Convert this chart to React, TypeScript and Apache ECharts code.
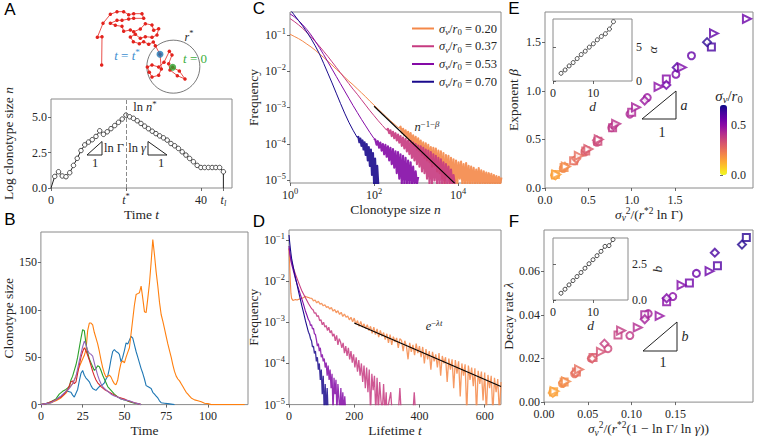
import { useEffect, useRef } from 'react';
import * as echarts from 'echarts';

const SERIF = '"Liberation Serif", "DejaVu Serif", serif';
const SANS = '"Liberation Sans", Arial, sans-serif';
const TXT = '#262626';
const FRAME = '#8a8a8a';

// ---------------- Panel A ----------------
// random-walk sketch, coordinates in sketch units (0..360 x 0..285)
const walkPts: number[][] = [
  [248, 187], [268, 198], [285, 222], [262, 212], [240, 195], [236, 176], [246, 150], [238, 139], [222, 172],
  [206, 186], [186, 180], [172, 186], [178, 202], [186, 216], [206, 211], [214, 192], [210, 148],
  [196, 122], [190, 111], [176, 118], [161, 110], [148, 116], [130, 110], [121, 96], [136, 88], [151, 100],
  [166, 95], [186, 97], [201, 90], [206, 71], [191, 76], [186, 60], [166, 56], [151, 72], [131, 80], [121, 75],
  [101, 79], [96, 64], [76, 61], [61, 55], [81, 46], [96, 46], [116, 42], [131, 40], [161, 40], [156, 26],
  [131, 26], [116, 29], [101, 20], [81, 20], [61, 28], [39, 55], [22, 97], [36, 95], [35, 180],
];
const walkCircleCenter = [250, 185];
const walkStart = [248, 187];
const walkPeak = [210, 148];

const T_STAR = 20;
const T_L = 46;
// log clonotype size at t = 0..46
const aLogSize = [0, 0.82, 1.15, 0.85, 0.8, 1.08, 1.6, 2.1, 2.65, 3.05, 3.25, 3.42, 3.65, 4.05, 3.8, 3.98, 4.2, 4.42,
  4.65, 4.88, 5.16, 5.04, 4.93, 4.76, 4.57, 4.38, 4.2, 4.02, 3.85, 3.69, 3.55, 3.39, 3.15, 2.99, 2.8, 2.56, 2.33,
  2.09, 1.86, 1.6, 1.45, 1.45, 1.45, 1.45, 1.45, 1.45, 1.15];

// ---------------- Panel B ----------------
const bBlue = [[0, 0], [3, 1], [6, 2], [9, 5], [12, 9], [14, 12], [16, 14], [18, 13], [19, 10], [20, 8], [21, 12], [22, 16], [23, 25], [24, 33], [25, 36], [26, 31], [27, 28], [28, 26], [29, 24], [30, 20], [31, 17], [32, 16], [33, 15], [34, 17], [35, 19], [36, 20], [37, 21], [38, 23], [39, 27], [40, 30], [41, 38], [42, 48], [43, 56], [44, 58], [45, 56], [46, 55], [47, 53], [48, 45], [49, 50], [50, 57], [51, 65], [52, 64], [53, 68], [54, 72], [55, 70], [56, 63], [57, 56], [58, 50], [59, 44], [60, 38], [61, 33], [62, 27], [63, 20], [64, 19], [65, 18], [66, 17], [67, 13], [68, 11], [69, 9], [70, 7], [71, 4], [72, 2], [74, 1.5], [76, 1], [78, 0.5], [80, 0]];
const bOrange = [[0, 0], [3, 1], [6, 2], [9, 4], [12, 7], [15, 12], [17, 18], [19, 22], [21, 30], [23, 40], [25, 48], [26, 52], [27, 58], [28, 78], [29, 86], [30, 86], [31, 84], [32, 76], [33, 70], [34, 64], [35, 56], [36, 47], [37, 39], [38, 33], [39, 29], [40, 30], [41, 31], [42, 29], [43, 25], [44, 22], [45, 21], [46, 26], [47, 36], [48, 44], [49, 46], [50, 44], [51, 50], [52, 55], [53, 60], [54, 75], [55, 90], [56, 105], [57, 116], [58, 117], [59, 118], [60, 125], [61, 112], [62, 98], [63, 97], [64, 112], [65, 128], [66, 150], [67, 174], [68, 158], [69, 140], [70, 125], [71, 108], [72, 95], [73, 88], [74, 80], [75, 72], [76, 64], [77, 57], [78, 50], [79, 42], [80, 35], [81, 30], [82, 27], [83, 25], [84, 22], [85, 19], [86, 16], [87, 13], [88, 11], [89, 9], [90, 7], [92, 5], [94, 4], [96, 3], [98, 1.5], [100, 1], [102, 0], [122, 0]];
const bGreen = [[0, 0], [3, 1], [6, 3], [9, 6], [11, 11], [13, 14], [15, 16], [17, 19], [18, 26], [19, 30], [20, 36], [21, 42], [22, 50], [23, 60], [24, 70], [25, 79], [26, 78], [27, 64], [28, 55], [29, 48], [30, 44], [31, 40], [32, 36], [33, 38], [34, 41], [35, 40], [36, 36], [37, 31], [38, 27], [39, 23], [40, 19], [42, 15], [44, 11], [46, 8], [48, 6], [50, 5], [53, 3], [56, 1.5], [58, 1], [60, 0]];
const bRed = [[0, 0], [3, 1], [6, 3], [9, 5], [12, 8], [14, 11], [16, 16], [17, 20], [18, 24], [19, 25], [20, 22], [21, 24], [22, 33], [23, 42], [24, 50], [25, 56], [26, 60], [27, 57], [28, 52], [29, 47], [30, 41], [31, 35], [32, 30], [33, 26], [34, 23], [35, 21], [36, 19], [38, 16], [40, 14], [42, 12], [44, 10], [46, 8], [48, 7], [50, 6], [52, 4], [54, 3], [56, 2], [58, 1], [60, 0]];
const bPurple = [[0, 0], [3, 1], [6, 2], [9, 5], [12, 9], [15, 14], [17, 17], [19, 22], [21, 30], [22, 38], [23, 46], [24, 54], [25, 61], [26, 67], [27, 63], [28, 57], [29, 54], [30, 53], [31, 51], [32, 44], [33, 37], [34, 31], [35, 26], [36, 22], [37, 19], [38, 17], [40, 14], [42, 11], [44, 9], [46, 8], [48, 6], [50, 5], [53, 4], [56, 2], [58, 1], [60, 0]];

// ---------------- Panel C (log10 n, log10 frequency) ----------------
const cStep = 0.1; // head sampled every 0.1 decade from n = 1
const cOrangeHead = [-0.98, -1.04, -1.1, -1.17, -1.25, -1.33, -1.42, -1.52, -1.62, -1.72, -1.83, -1.94, -2.05, -2.16, -2.27, -2.37, -2.48, -2.59, -2.7, -2.82, -2.93, -3.04, -3.15, -3.26, -3.37, -3.47, -3.57];
const cOrangeTail = [-3.52, -3.68, -3.58, -3.75, -3.62, -3.82, -3.66, -3.9, -3.7, -3.98, -3.76, -4.05, -3.8, -4.15, -3.84, -4.2, -3.9, -4.3, -3.95, -4.38, -3.98, -4.45, -4.02, -4.5, -4.08, -4.62, -4.1, -4.6, -4.12, -4.75, -4.18, -4.8, -4.2, -4.95, -4.25, -5.1, -4.3, -4.9, -4.32, -5.1, -4.38, -5.0, -4.42, -5.1, -4.45, -5.1, -4.5, -4.95, -4.48, -5.1, -4.55, -5.1, -4.52, -5.1, -4.6, -5.1, -4.62, -5.1, -4.65, -5.1, -4.7, -5.1, -4.66, -5.1, -4.72, -5.1, -4.75, -5.1, -4.78, -5.1, -4.8, -5.1, -4.82, -5.1, -4.85, -5.1, -4.88, -5.1, -4.9, -5.1, -4.92];
const cMagentaHead = [-0.55, -0.63, -0.72, -0.82, -0.93, -1.05, -1.18, -1.31, -1.45, -1.59, -1.74, -1.89, -2.04, -2.19, -2.34, -2.49, -2.63, -2.78, -2.93, -3.08, -3.22, -3.36, -3.49, -3.62];
const cMagentaTail = [-3.58, -3.7, -3.62, -3.78, -3.66, -3.84, -3.7, -3.9, -3.74, -3.96, -3.78, -4.05, -3.82, -4.12, -3.86, -4.2, -3.9, -4.28, -3.92, -4.38, -3.96, -4.45, -4.0, -4.55, -4.04, -4.62, -4.06, -4.75, -4.1, -4.8, -4.15, -4.95, -4.18, -5.1, -4.22, -5.1, -4.28, -5.0, -4.32, -5.1, -4.38, -5.1, -4.42, -5.1, -4.5, -5.1, -4.55, -5.1, -4.62, -5.1, -4.7, -5.1, -4.85, -5.1];
const cPurpleHead = [-0.42, -0.5, -0.6, -0.72, -0.85, -1.0, -1.17, -1.35, -1.54, -1.74, -1.94, -2.14, -2.34, -2.54, -2.74, -2.94, -3.13, -3.32, -3.5, -3.68, -3.85];
const cPurpleTail = [-3.88, -4.02, -3.92, -4.1, -3.96, -4.18, -4.0, -4.28, -4.02, -4.35, -4.06, -4.45, -4.1, -4.55, -4.14, -4.65, -4.2, -4.8, -4.22, -4.95, -4.28, -5.1, -4.32, -5.1, -4.38, -5.1, -4.45, -5.1, -4.5, -5.1, -4.62, -5.1, -4.75, -5.1, -4.9];
const cBlueHead = [-0.3, -0.45, -0.6, -0.75, -0.92, -1.1, -1.3, -1.52, -1.78, -2.05, -2.32, -2.6, -2.88, -3.15, -3.4, -3.62, -3.82];
const cBlueTail = [-3.8, -3.95, -3.85, -4.05, -3.9, -4.15, -3.95, -4.3, -4.0, -4.45, -4.08, -4.6, -4.15, -4.85, -4.25, -5.1, -4.4, -5.1, -4.6, -5.1];
const cFit = [[2.0, -2.96], [3.92, -5.08]];

// ---------------- Panel D (lifetime t, log10 frequency) ----------------
const dOrangeHead = [[0, -1.22], [2, -1.6], [4, -2.0], [6, -2.3], [8, -2.42], [12, -2.47], [16, -2.46], [20, -2.45], [25, -2.46], [30, -2.44], [35, -2.43], [40, -2.42], [45, -2.4], [50, -2.37], [55, -2.39], [60, -2.4], [65, -2.42]];
const dOrangeTail = [-2.42, -2.48, -2.46, -2.53, -2.49, -2.56, -2.54, -2.6, -2.58, -2.64, -2.62,
  -2.68, -2.64, -2.73, -2.69, -2.77, -2.72, -2.81, -2.76, -2.86, -2.8, -2.88,
  -2.85, -2.94, -2.88, -2.99, -2.9, -3.05, -2.96, -3.1, -2.98, -3.12, -3.04,
  -3.16, -3.06, -3.2, -3.1, -3.27, -3.12, -3.3, -3.16, -3.36, -3.2, -3.34,
  -3.25, -3.42, -3.28, -3.5, -3.3, -3.55, -3.35, -3.48, -3.38, -3.62, -3.4,
  -3.44, -3.7, -3.45, -3.58, -3.9, -3.5, -3.72, -3.55, -3.8, -3.52, -3.75,
  -3.58, -3.85, -3.6, -4.0, -3.65, -3.9, -3.7, -4.15, -3.72, -3.95, -3.78,
  -4.1, -3.75, -4.3, -3.82, -4.0, -3.85, -4.45, -3.88, -4.15, -3.9, -4.6,
  -3.92, -4.25, -3.95, -4.8, -4.0, -4.3, -4.02, -5.2, -4.05, -4.4, -4.1,
  -4.55, -4.12, -5.2, -4.18, -4.5, -4.2, -4.9, -4.22, -5.2, -4.28, -4.6,
  -4.3, -5.2, -4.35, -4.7, -4.38, -5.2, -4.45]; // t = 70, 75, ..., 650
const dMagentaHead = [[0, -1.2], [3, -1.35], [6, -1.47], [10, -1.58], [15, -1.72], [20, -1.84], [30, -2.05], [40, -2.25], [50, -2.4], [60, -2.55], [70, -2.68]];
const dMagentaTail = [-2.7, -2.78, -2.77, -2.86, -2.84, -2.96, -2.94,
  -3.06, -3.0, -3.12, -3.08, -3.2, -3.12, -3.26,
  -3.2, -3.34, -3.28, -3.45, -3.32, -3.55, -3.4,
  -3.48, -3.62, -3.5, -3.75, -3.58, -3.82, -3.62,
  -3.9, -3.7, -3.98, -3.78, -4.1, -3.85, -4.2,
  -3.92, -4.3, -4.0, -4.45, -4.05, -4.6, -4.1,
  -4.7, -4.15, -5.2, -4.25, -4.65, -4.3, -5.2,
  -4.35, -5.2, -4.45, -4.9, -5.2, -4.5, -5.2, -4.7]; // t = 74, 78, ..., 298
const dMagentaSparse = [[300, -5.2], [312, -4.7], [316, -5.2], [335, -5.2], [340, -4.6], [344, -5.2], [380, -5.2], [384, -4.7], [388, -5.2]];
const dPurpleHead = [[0, -1.15], [3, -1.35], [6, -1.52], [10, -1.65], [15, -1.8], [20, -1.95], [25, -2.08], [30, -2.2], [35, -2.33], [40, -2.45], [45, -2.58], [50, -2.72], [55, -2.83], [60, -2.95]];
const dPurpleTail = [-2.98, -3.08, -3.06, -3.16, -3.15, -3.28, -3.3,
  -3.42, -3.58, -3.52, -3.7, -3.62, -3.85, -3.78,
  -3.95, -3.88, -4.1, -3.98, -4.3, -4.05, -4.4,
  -4.15, -4.6, -4.25, -5.2, -4.35, -4.75, -4.4,
  -5.2, -4.5, -4.85, -5.2, -4.6, -5.2, -4.7,
  -5.2, -4.8, -5.2]; // t = 63, 66, ..., 174
const dBlueHead = [[0, -0.88], [2, -1.05], [4, -1.2], [6, -1.33], [8, -1.45], [12, -1.62], [16, -1.78], [20, -1.92], [25, -2.1], [30, -2.28], [35, -2.45], [40, -2.62], [45, -2.78], [50, -2.95], [55, -3.1], [60, -3.25]];
const dBlueTail = [-3.3, -3.4, -3.45, -3.6, -3.58, -3.76, -3.7, -3.95, -3.85, -4.15, -4.0, -4.4, -4.15, -4.75, -4.3, -5.2, -4.5, -5.2, -4.6, -5.2]; // t = 63, 66, ..., 120
const dFit = [[200, -3.02], [650, -4.56]];

// ---------------- Panel E / F  ([x, y, sigma_v/r0]) ----------------
const eCircles = [[0.11, 0.13, 0.15], [0.21, 0.2, 0.2], [0.34, 0.28, 0.26], [0.46, 0.37, 0.3], [0.6, 0.47, 0.35], [0.77, 0.62, 0.39], [0.98, 0.76, 0.43], [1.18, 0.93, 0.47], [1.51, 1.17, 0.53], [1.69, 1.36, 0.57]];
const eSquares = [[0.12, 0.14, 0.15], [0.22, 0.21, 0.2], [0.33, 0.28, 0.26], [0.47, 0.38, 0.3], [0.61, 0.48, 0.35], [0.78, 0.62, 0.39], [1.0, 0.78, 0.43], [1.4, 1.12, 0.51], [1.92, 1.45, 0.62]];
const eDiamonds = [[0.12, 0.13, 0.15], [0.23, 0.22, 0.2], [0.36, 0.3, 0.26], [0.47, 0.39, 0.3], [0.6, 0.49, 0.35], [0.79, 0.64, 0.4], [1.15, 0.9, 0.47], [1.4, 1.06, 0.55], [1.52, 1.24, 0.6], [1.87, 1.5, 0.66]];
const eTriangles = [[0.13, 0.14, 0.15], [0.24, 0.22, 0.2], [0.39, 0.33, 0.26], [0.5, 0.4, 0.31], [0.62, 0.5, 0.35], [0.82, 0.66, 0.4], [1.05, 0.83, 0.45], [1.31, 1.04, 0.5], [1.58, 1.24, 0.53], [1.95, 1.59, 0.58], [2.33, 1.74, 0.56]];
const fCircles = [[0.01, 0.0045, 0.15], [0.021, 0.0085, 0.2], [0.035, 0.013, 0.26], [0.054, 0.02, 0.3], [0.073, 0.0245, 0.35], [0.098, 0.0305, 0.39], [0.119, 0.0406, 0.45], [0.147, 0.0484, 0.5], [0.174, 0.059, 0.56]];
const fSquares = [[0.011, 0.0048, 0.15], [0.023, 0.0092, 0.2], [0.037, 0.0138, 0.26], [0.056, 0.0205, 0.31], [0.0845, 0.0308, 0.37], [0.115, 0.04, 0.45], [0.14, 0.046, 0.5], [0.166, 0.0546, 0.55], [0.198, 0.0625, 0.6], [0.231, 0.0755, 0.66]];
const fDiamonds = [[0.01, 0.0042, 0.15], [0.022, 0.009, 0.2], [0.036, 0.0135, 0.26], [0.055, 0.02, 0.3], [0.069, 0.0268, 0.37], [0.115, 0.038, 0.45], [0.14, 0.0476, 0.52], [0.195, 0.0685, 0.62], [0.226, 0.0722, 0.67]];
const fTriangles = [[0.012, 0.005, 0.15], [0.025, 0.0095, 0.2], [0.04, 0.015, 0.26], [0.065, 0.023, 0.33], [0.088, 0.0328, 0.38], [0.107, 0.0342, 0.42], [0.132, 0.0395, 0.48], [0.157, 0.0536, 0.52], [0.189, 0.06, 0.56]];

// insets: exponent vs dimension d
const insetD = [2, 3, 4, 5, 6, 7, 8, 9, 10, 11, 12, 13, 14, 15];
const insetAlpha = [1.15, 1.65, 2.25, 2.75, 3.35, 3.95, 4.45, 5.05, 5.55, 6.15, 6.65, 7.05, 7.75, 8.85];
const insetB = [0.47, 0.75, 1.05, 1.35, 1.63, 1.91, 2.21, 2.52, 2.8, 3.08, 3.38, 3.73, 3.78, 4.2];

const sigmaLabels = ['0.20', '0.37', '0.53', '0.70'];
const sigmaColors = ['#f48849', '#c63a80', '#840aa6', '#1a0a8c'];
const PLASMA_R = ['#f0f921', '#fcce25', '#fca636', '#f2844b', '#e16462', '#cc4778', '#b12a90', '#8f0da4', '#6a00a8', '#41049d', '#0d0887'];

// ---------------- helpers ----------------
const rich = (fs = 12, color = TXT) => ({
  b: { fontFamily: SERIF, fontSize: fs, color, lineHeight: fs + 3 },
  i: { fontFamily: SERIF, fontSize: fs, fontStyle: 'italic', color, lineHeight: fs + 3 },
  p: { fontFamily: SERIF, fontSize: fs * 0.7, color, verticalAlign: 'top', lineHeight: fs * 0.7 + 1 },
  pi: { fontFamily: SERIF, fontSize: fs * 0.7, fontStyle: 'italic', color, verticalAlign: 'top', lineHeight: fs * 0.7 + 1 },
  s: { fontFamily: SERIF, fontSize: fs * 0.7, color, verticalAlign: 'bottom', lineHeight: fs * 0.7 + 1 },
  si: { fontFamily: SERIF, fontSize: fs * 0.7, fontStyle: 'italic', color, verticalAlign: 'bottom', lineHeight: fs * 0.7 + 1 },
});
const R12 = rich(12);
const R13 = rich(13.5);
const pow10 = (v: number) => `{b|10}{p|${v < 0 ? '−' + Math.abs(v) : v}}`;
const seq = (start: number, step: number, vals: number[]) => vals.map((v, i) => [+(start + i * step).toFixed(4), v]);
const headC = (vals: number[]) => vals.map((v, i) => [+(i * cStep).toFixed(3), v]);

function axis(gridIndex: number, min: number, max: number, ticks: number[] | null, fmt: any, extra: any = {}) {
  return {
    type: 'value', gridIndex, min, max,
    axisLine: { show: false },
    splitLine: { show: false },
    axisTick: ticks ? { show: true, length: 3, lineStyle: { color: '#444', width: 0.8 }, customValues: ticks } : { show: false },
    axisLabel: ticks ? { show: true, customValues: ticks, formatter: fmt, fontFamily: SERIF, fontSize: 12, color: TXT, margin: 4, rich: R12 } : { show: false },
    nameLocation: 'middle',
    nameTextStyle: { fontFamily: SERIF, fontSize: 13.5, color: TXT, rich: R13 },
    ...extra,
  };
}
const hidden = (gridIndex: number, min: number, max: number, extra: any = {}) => ({ type: 'value', gridIndex, min, max, show: false, ...extra });

function buildOption() {
  const gridBox = { show: true, borderColor: FRAME, borderWidth: 1, backgroundColor: '#fff' };
  const grid = [
    { left: 90, top: 5, width: 120, height: 95, show: false },
    { left: 51, top: 99, width: 181, height: 89, ...gridBox },
    { left: 35, top: 232, width: 213, height: 174, ...gridBox },
    { left: 290, top: 12, width: 211, height: 171, ...gridBox },
    { left: 289, top: 230, width: 212, height: 176, ...gridBox },
    { left: 545, top: 12, width: 208, height: 176, ...gridBox },
    { left: 553, top: 19, width: 79, height: 62, ...gridBox },
    { left: 544, top: 230, width: 209, height: 177, ...gridBox },
    { left: 553, top: 238, width: 75, height: 62, ...gridBox },
    { left: 720, top: 105, width: 7, height: 70, show: false },
  ];
  const fx1 = (v: number) => v.toFixed(1);
  const fx2 = (v: number) => v.toFixed(2);
  const xAxis = [
    hidden(0, 0, 360),
    axis(1, 0, 48.3, [0, T_STAR, 40, T_L], (v: number) => (v === T_STAR ? '{i|t}{p|*}' : v === T_L ? '{i|t}{si|l}' : `{b|${v}}`), { name: '{b|Time }{i|t}', nameGap: 14 }),
    axis(2, 0, 124, [0, 25, 50, 75, 100], (v: number) => `{b|${v}}`, { name: '{b|Time}', nameGap: 14 }),
    axis(3, 0, 5.02, [0, 2, 4], pow10, { name: '{b|Clonotype size }{i|n}', nameGap: 18 }),
    axis(4, 0, 650, [0, 200, 400, 600], (v: number) => `{b|${v}}`, { name: '{b|Lifetime }{i|t}', nameGap: 14 }),
    axis(5, 0, 2.4, [0, 0.5, 1, 1.5], (v: number) => `{b|${fx1(v)}}`, { name: '{i|σ}{si|v}{p|2}{b|/(}{i|r}{p|*2}{b| ln Γ)}', nameGap: 13 }),
    axis(6, 0, 19.6, [0, 10], (v: number) => `{b|${v}}`, { name: '{i|d}', nameGap: 12 }),
    axis(7, 0, 0.2386, [0, 0.05, 0.1, 0.15], (v: number) => `{b|${fx2(v)}}`, { name: '{i|σ}{si|v}{p|2}{b|/(}{i|r}{p|*2}{b|(1 − ln Γ/ ln }{i|γ}{b|))}', nameGap: 10 }),
    axis(8, 0, 18.75, [0, 10], (v: number) => `{b|${v}}`, { name: '{i|d}', nameGap: 12 }),
    hidden(9, 0, 1),
  ];
  const yAxis = [
    hidden(0, 0, 285, { inverse: true }),
    axis(1, 0, 6.3, [0, 2.5, 5], (v: number) => `{b|${fx1(v)}}`, { name: '{b|Log clonotype size }{i|n}', nameGap: 34 }),
    axis(2, 0, 182, [0, 50, 100, 150], (v: number) => `{b|${v}}`, { name: '{b|Clonotype size}', nameGap: 22 }),
    axis(3, -5.07, -0.37, [-5, -4, -3, -2, -1], pow10, { name: '{b|Frequency}', nameGap: 28 }),
    axis(4, -5, -0.76, [-5, -4, -3, -2, -1], pow10, { name: '{b|Frequency}', nameGap: 27 }),
    axis(5, 0, 1.81, [0, 0.5, 1, 1.5], (v: number) => `{b|${fx1(v)}}`, { name: '{b|Exponent }{i|β}', nameGap: 23 }),
    axis(6, 0, 9.25, [0, 5], (v: number) => `{b|${v}}`, { position: 'right', name: '{i|α}', nameGap: 10, nameRotate: 90 }),
    axis(7, 0, 0.0789, [0, 0.02, 0.04, 0.06], (v: number) => `{b|${fx2(v)}}`, { name: '{b|Decay rate }{i|λ}', nameGap: 24 }),
    axis(8, 0, 4.31, [0, 2.5], (v: number) => `{b|${fx1(v)}}`, { position: 'right', name: '{i|b}', nameGap: 13, nameRotate: 90 }),
    axis(9, 0, 0.7, [0, 0.5], (v: number) => `{b|${fx1(v)}}`, { position: 'right' }),
  ];

  const series: any[] = [];
  // A: random walk sketch
  series.push({ type: 'line', xAxisIndex: 0, yAxisIndex: 0, data: walkPts, symbol: 'circle', symbolSize: 3.5, itemStyle: { color: '#e3231d' }, lineStyle: { color: '#e3231d', width: 0.8 }, z: 3 });
  series.push({ type: 'scatter', xAxisIndex: 0, yAxisIndex: 0, data: [walkCircleCenter], symbolSize: 53, itemStyle: { color: 'rgba(0,0,0,0)', borderColor: '#444', borderWidth: 0.9 }, z: 2 });
  series.push({ type: 'scatter', xAxisIndex: 0, yAxisIndex: 0, data: [walkPeak], symbolSize: 7, itemStyle: { color: '#1f77b4' }, z: 5 });
  series.push({ type: 'scatter', xAxisIndex: 0, yAxisIndex: 0, data: [walkStart], symbolSize: 7, itemStyle: { color: '#2ca02c' }, z: 5 });
  // A: log size trajectory
  const aData: any[] = aLogSize.map((v, t) => (t === 0 ? { value: [t, v], symbol: 'none' } : [t, v]));
  aData.push({ value: [T_L, 0], symbol: 'none' });
  const openCircle = { color: '#fff', borderColor: '#222', borderWidth: 0.8 };
  series.push({
    type: 'line', xAxisIndex: 1, yAxisIndex: 1, data: aData, symbol: 'circle', symbolSize: 4.5,
    itemStyle: openCircle, lineStyle: { color: '#222', width: 1 },
    markLine: { silent: true, symbol: 'none', label: { show: false }, lineStyle: { type: 'dashed', color: '#8a8a8a', width: 1 }, data: [{ xAxis: T_STAR }] },
  });
  // B
  [[bBlue, '#1f77b4'], [bOrange, '#ff7f0e'], [bGreen, '#2ca02c'], [bRed, '#d62728'], [bPurple, '#9467bd']].forEach(([d, c]: any) => {
    series.push({ type: 'line', xAxisIndex: 2, yAxisIndex: 2, data: d, symbol: 'none', lineStyle: { color: c, width: 1.1 }, itemStyle: { color: c } });
  });
  // C: smooth heads (legend) + noisy tails (thicker, merge into bands)
  const names = sigmaLabels.map((s) => `σv/r0 = ${s}`);
  const cHeads = [headC(cOrangeHead), headC(cMagentaHead), headC(cPurpleHead), headC(cBlueHead)];
  const cTails = [seq(2.63, 0.03, cOrangeTail), seq(2.33, 0.03, cMagentaTail), seq(2.03, 0.03, cPurpleTail), seq(1.625, 0.025, cBlueTail)];
  cHeads.forEach((d, k) => {
    const last = d[d.length - 1];
    series.push({ name: names[k], type: 'line', xAxisIndex: 3, yAxisIndex: 3, data: d, symbol: 'none', lineStyle: { color: sigmaColors[k], width: 1 }, itemStyle: { color: sigmaColors[k] } });
    series.push({ type: 'line', xAxisIndex: 3, yAxisIndex: 3, data: [last].concat(cTails[k]), symbol: 'none', lineStyle: { color: sigmaColors[k], width: 2.1, opacity: 0.9, join: 'round' }, itemStyle: { color: sigmaColors[k] } });
  });
  series.push({ type: 'line', xAxisIndex: 3, yAxisIndex: 3, data: cFit, symbol: 'none', lineStyle: { color: '#000', width: 1.1 }, z: 5 });
  // D
  const dHeads = [dOrangeHead, dMagentaHead, dPurpleHead, dBlueHead];
  const dTails = [seq(70, 5, dOrangeTail), seq(74, 4, dMagentaTail).concat(dMagentaSparse), seq(63, 3, dPurpleTail), seq(63, 3, dBlueTail)];
  dHeads.forEach((d, k) => {
    const last = d[d.length - 1];
    series.push({ name: names[k], type: 'line', xAxisIndex: 4, yAxisIndex: 4, data: d, symbol: 'none', lineStyle: { color: sigmaColors[k], width: 1.1 }, itemStyle: { color: sigmaColors[k] } });
    series.push({ type: 'line', xAxisIndex: 4, yAxisIndex: 4, data: [last].concat(dTails[k]), symbol: 'none', lineStyle: { color: sigmaColors[k], width: 1.3, opacity: 0.85 }, itemStyle: { color: sigmaColors[k] } });
  });
  series.push({ type: 'line', xAxisIndex: 4, yAxisIndex: 4, data: dFit, symbol: 'none', lineStyle: { color: '#000', width: 1.1 }, z: 5 });
  // E, F scatter
  const scatterStart = series.length;
  const shapes: [any[], string, number, number][] = [
    [eCircles, 'emptyCircle', 7, 0], [eSquares, 'emptyRect', 7, 0], [eDiamonds, 'emptyDiamond', 8, 0], [eTriangles, 'emptyTriangle', 8, -90],
  ];
  shapes.forEach(([d, sym, sz, rot]) => series.push({ type: 'scatter', xAxisIndex: 5, yAxisIndex: 5, data: d, symbol: sym, symbolSize: sz, symbolRotate: rot, itemStyle: { borderWidth: 1.5 } }));
  const fShapes: [any[], string, number, number][] = [
    [fCircles, 'emptyCircle', 7, 0], [fSquares, 'emptyRect', 7, 0], [fDiamonds, 'emptyDiamond', 8, 0], [fTriangles, 'emptyTriangle', 8, -90],
  ];
  fShapes.forEach(([d, sym, sz, rot]) => series.push({ type: 'scatter', xAxisIndex: 7, yAxisIndex: 7, data: d, symbol: sym, symbolSize: sz, symbolRotate: rot, itemStyle: { borderWidth: 1.5 } }));
  const scatterIdx = [0, 1, 2, 3, 4, 5, 6, 7].map((i) => scatterStart + i);
  // insets
  series.push({ type: 'line', xAxisIndex: 6, yAxisIndex: 6, data: insetD.map((d, i) => [d, insetAlpha[i]]), symbol: 'circle', symbolSize: 4, itemStyle: openCircle, lineStyle: { color: '#333', width: 0.8 } });
  series.push({ type: 'line', xAxisIndex: 8, yAxisIndex: 8, data: insetD.map((d, i) => [d, insetB[i]]), symbol: 'circle', symbolSize: 4, itemStyle: openCircle, lineStyle: { color: '#333', width: 0.8 } });

  const txt = (x: number, y: number, text: string, fs = 12, color = TXT, align = 'center') => ({
    type: 'text', x, y, z: 100,
    style: { text, rich: rich(fs, color), align, verticalAlign: 'middle', fill: color, fontFamily: SERIF, fontSize: fs },
  });
  const letter = (x: number, y: number, t: string) => ({
    type: 'text', x, y, z: 100, style: { text: t, fontFamily: SANS, fontSize: 17, fill: '#000', align: 'center', verticalAlign: 'middle' },
  });
  const tri = (pts: number[][]) => ({ type: 'polygon', z: 100, shape: { points: pts }, style: { fill: 'none', stroke: '#222', lineWidth: 1 } });

  const graphic = [
    letter(10, 9, 'A'), letter(10, 219, 'B'), letter(259, 8, 'C'), letter(259, 221, 'D'), letter(514, 8, 'E'), letter(514, 221, 'F'),
    txt(127, 55, '{i|t}{b| = }{i|t}{p|*}', 13, '#3d8fd1'),
    txt(195, 58, '{i|t}{b| = 0}', 13, '#3cae3c'),
    txt(189, 37, '{i|r}{p|*}', 12),
    txt(145, 107, '{b|ln }{i|n}{p|*}', 12.5),
    tri([[87, 155], [102, 141.5], [102, 155]]),
    txt(95, 162.5, '{b|1}', 12.5),
    txt(104, 148, '{b|ln Γ}', 12.5, TXT, 'left'),
    tri([[148, 141.5], [148, 155], [167, 155]]),
    txt(161, 162.5, '{b|1}', 12.5),
    txt(146, 148, '{b|ln }{i|γ}', 12.5, TXT, 'right'),
    txt(427, 127, '{i|n}{p|−1−}{pi|β}', 12.5),
    txt(434, 326, '{i|e}{p|−}{pi|λt}', 12.5),
    tri([[642, 119], [676, 119], [676, 91]]),
    txt(684, 105, '{i|a}', 14),
    txt(662, 132, '{b|1}', 14),
    tri([[643, 351], [677, 351], [677, 322]]),
    txt(685, 336, '{i|b}', 14),
    txt(663, 362, '{b|1}', 14),
    txt(729, 96, '{i|σ}{si|v}{b|/}{i|r}{s|0}', 15),
  ];

  return {
    animation: false,
    backgroundColor: '#fff',
    grid, xAxis, yAxis, series, graphic,
    legend: {
      data: names, left: 407, top: 17, orient: 'vertical', icon: 'rect', itemWidth: 22, itemHeight: 2, itemGap: 3.5,
      textStyle: { fontFamily: SERIF, fontSize: 12.5, color: TXT, rich: rich(12.5) },
      formatter: (n: string) => `{i|σ}{si|v}{b|/}{i|r}{s|0}{b| = ${n.split('= ')[1]}}`,
      selectedMode: false,
    },
    visualMap: {
      type: 'continuous', min: 0, max: 0.7, dimension: 2, seriesIndex: scatterIdx,
      inRange: { color: PLASMA_R }, left: 720, top: 105, itemWidth: 7, itemHeight: 70,
      calculable: false, padding: 0, orient: 'vertical', show: true, hoverLink: false,
    },
  };
}

export default function App() {
  const ref = useRef<HTMLDivElement>(null);
  useEffect(() => {
    const chart = echarts.init(ref.current!, undefined, { renderer: 'svg' });
    chart.setOption(buildOption() as any);
    return () => chart.dispose();
  }, []);
  return <div ref={ref} style={{ position: 'absolute', left: 0, top: 0, width: 757, height: 438, background: '#fff' }} />;
}
